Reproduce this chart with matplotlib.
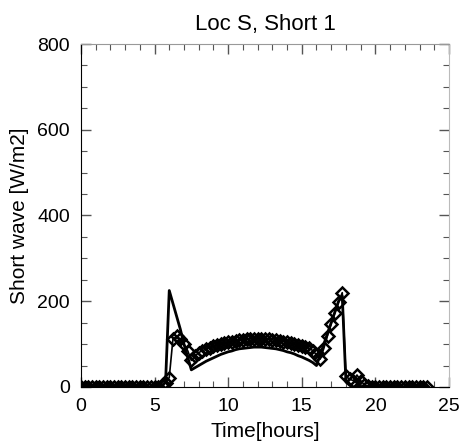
import numpy as np
import matplotlib
matplotlib.use("Agg")
import matplotlib.pyplot as plt
from matplotlib.ticker import MultipleLocator

plt.rcParams['font.family'] = ['Liberation Sans', 'DejaVu Sans']

# Time axis, every 15 minutes
hours = np.arange(0, 23.75, 0.25)

# Solid line (model) values in W/m2, 0.25 h steps
model = [0] * 22 + [
    2, 12, 225, 195, 165, 135, 100, 70, 40,             # 5.5 .. 7.5
    45, 50, 55, 60, 64, 68, 72, 76, 79, 82, 84, 87, 89,  # 7.75 .. 10.75
    90, 91, 92, 93, 93, 93, 92, 91, 90, 89, 87, 85,      # 11 .. 13.75
    82, 80, 77, 73, 70, 66, 62, 57, 50,                  # 14 .. 16
    75, 100, 125, 150, 175, 200, 212, 12, 4,             # 16.25 .. 18.25
]
model = model + [0] * (len(hours) - len(model))

# Diamond series (observations) in W/m2, 0.25 h steps
obs = [0] * 22 + [
    4, 10, 22, 112, 118, 112, 100, 85, 62,               # 5.5 .. 7.5
    72, 80, 85, 88, 92, 95, 97, 100, 102, 104, 106, 108, 109,  # 7.75 .. 10.75
    110, 111, 112, 113, 113, 113, 112, 111, 110, 109, 108, 106,  # 11 .. 13.75
    104, 102, 100, 98, 96, 94, 90, 85, 75,               # 14 .. 16
    65, 90, 120, 148, 173, 198, 220, 25, 18,             # 16.25 .. 18.25
    15, 28, 15, 5, 2,                                    # 18.5 .. 19.5
]
obs = obs + [0] * (len(hours) - len(obs))

fig = plt.figure(figsize=(4.65, 4.44), dpi=100)
ax = fig.add_axes([0.174, 0.1284, 0.7916, 0.7725])

ax.plot(hours, model, color='black', lw=2.0, zorder=3)
ax.plot(hours, obs, color='black', lw=1.2, marker='D', markersize=6.5,
        markerfacecolor='none', markeredgecolor='black', markeredgewidth=1.8,
        zorder=4)

ax.set_xlim(0, 25)
ax.set_ylim(0, 800)
ax.xaxis.set_major_locator(MultipleLocator(5))
ax.xaxis.set_minor_locator(MultipleLocator(1))
ax.yaxis.set_major_locator(MultipleLocator(200))
ax.yaxis.set_minor_locator(MultipleLocator(50))
ax.tick_params(which='both', direction='in', top=True, right=True, labelsize=14,
               color='#555555', pad=8)
ax.tick_params(which='major', length=7, width=1)
ax.tick_params(which='minor', length=4, width=0.8)

ax.spines['left'].set_color('black')
ax.spines['bottom'].set_color('black')
ax.spines['top'].set_color('#999999')
ax.spines['right'].set_color('#bbbbbb')

ax.set_title('Loc S, Short 1', fontsize=16, pad=10)
ax.set_xlabel('Time[hours]', fontsize=15, labelpad=5)
ax.set_ylabel('Short wave [W/m2]', fontsize=15, labelpad=6)

fig.savefig('out.png', dpi=100)
